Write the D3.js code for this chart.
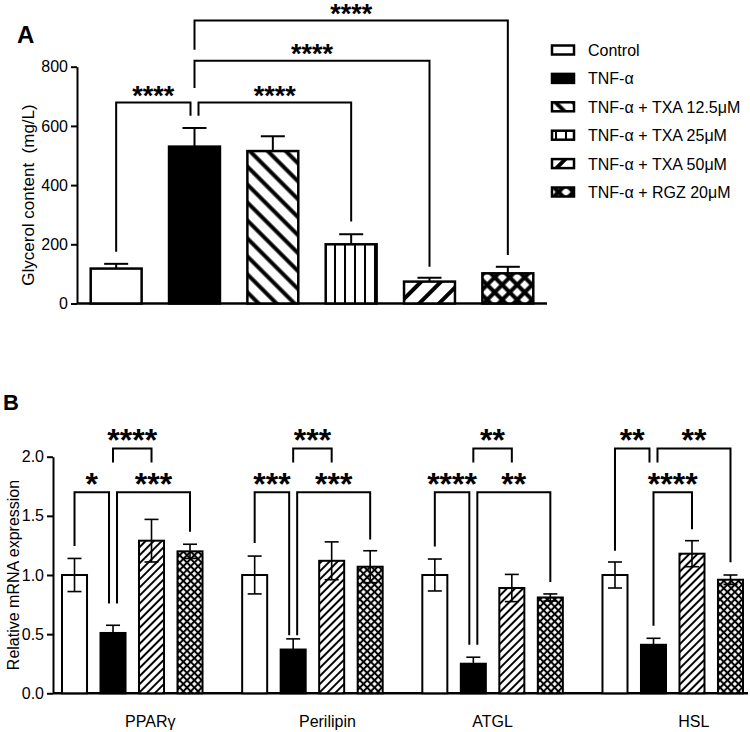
<!DOCTYPE html>
<html>
<head>
<meta charset="utf-8">
<script src="https://cdn.jsdelivr.net/npm/d3@7"></script>
<style>
  body { margin: 0; background: #fff; }
  text { font-family: "Liberation Sans", Arial, sans-serif; }
</style>
</head>
<body>
<svg width="750" height="732"></svg>
<script>
// ---- panel A data
var groupsA = ["Control", "TNF-α", "TNF-α + TXA 12.5μM", "TNF-α + TXA 25μM", "TNF-α + TXA 50μM", "TNF-α + RGZ 20μM"];
var glycerol = [118, 530, 515, 200, 74, 102];
var glycerolErr = [16, 63, 50, 34, 13, 22];
var ticksA = [0, 200, 400, 600, 800];
// brackets: bar a, bar b, bracket level, leg ends (mg/L), stars
var sigA = [
  [0, 1, 679, 175, 634, "****"],
  [1, 3, 679, 634, 277, "****"],
  [1, 4, 820, 728, 124, "****"],
  [1, 5, 956, 857, 164, "****"]
];

// ---- panel B data
var genes = ["PPARγ", "Perilipin", "ATGL", "HSL"];
var seriesB = ["Control", "TNF-α", "TNF-α + TXA 50μM", "TNF-α + RGZ 20μM"];
var mControl = [1.0, 1.0, 1.0, 1.0];
var sdControl = [0.14, 0.16, 0.135, 0.11];
var mTNF = [0.51, 0.37, 0.25, 0.41];
var sdTNF = [0.065, 0.09, 0.055, 0.055];
var mTXA50 = [1.29, 1.12, 0.89, 1.18];
var sdTXA50 = [0.18, 0.16, 0.115, 0.11];
var mRGZ = [1.2, 1.07, 0.81, 0.96];
var sdRGZ = [0.06, 0.135, 0.03, 0.04];
var ticksB = [0, 0.5, 1.0, 1.5, 2.0];
// brackets: gene, bar a, bar b, level, leg ends, stars
var sigB = [
  [0, 0, 1, 1.70, 1.245, 0.76, "*"],
  [0, 1, 3, 1.70, 0.76, 1.366, "***"],
  [0, 1, 2, 2.07, 1.95, 1.95, "****"],
  [1, 0, 1, 1.70, 1.27, 0.49, "***"],
  [1, 1, 3, 1.70, 0.49, 1.30, "***"],
  [1, 1, 2, 2.07, 1.95, 1.95, "***"],
  [2, 0, 1, 1.70, 1.24, 0.41, "****"],
  [2, 1, 3, 1.70, 0.41, 0.94, "**"],
  [2, 1, 2, 2.07, 1.95, 1.95, "**"],
  [3, 0, 1, 2.07, 1.205, 1.95, "**"],
  [3, 1, 3, 2.07, 1.95, 1.107, "**"],
  [3, 1, 2, 1.70, 0.57, 1.386, "****"]
];
var labelShift = [18, 15, 0, 21];

var svg = d3.select("svg"),
    defs = svg.append("defs");

function stripes(id, size, width, angle) {
  var p = defs.append("pattern").attr("id", id)
      .attr("patternUnits", "userSpaceOnUse")
      .attr("width", size).attr("height", size)
      .attr("patternTransform", "rotate(" + angle + ")");
  p.append("rect").attr("width", size).attr("height", size).attr("fill", "#fff");
  p.append("line").attr("x1", size / 2).attr("x2", size / 2).attr("y1", -1).attr("y2", size + 1)
      .attr("stroke", "#000").attr("stroke-width", width);
}
function cross(id, size, width) {
  var p = defs.append("pattern").attr("id", id)
      .attr("patternUnits", "userSpaceOnUse")
      .attr("width", size).attr("height", size)
      .attr("patternTransform", "rotate(45)");
  p.append("rect").attr("width", size).attr("height", size).attr("fill", "#fff");
  p.append("line").attr("x1", size / 2).attr("x2", size / 2).attr("y1", -1).attr("y2", size + 1)
      .attr("stroke", "#000").attr("stroke-width", width);
  p.append("line").attr("y1", size / 2).attr("y2", size / 2).attr("x1", -1).attr("x2", size + 1)
      .attr("stroke", "#000").attr("stroke-width", width);
}
stripes("a125", 12.7, 4, -45);
stripes("a25", 10, 2, 0);
stripes("a50", 14, 4, 45);
cross("argz", 10.6, 4);
stripes("b50", 5.7, 2, 45);
cross("brgz", 5.2, 2);

var fillA = ["#fff", "#000", "url(#a125)", "url(#a25)", "url(#a50)", "url(#argz)"];
var fillB = ["#fff", "#000", "url(#b50)", "url(#brgz)"];

// ================= panel A
var xA = d3.scaleBand().domain(groupsA).range([77, 547]).paddingInner(0.35).paddingOuter(0.175);
var yA = d3.scaleLinear().domain([0, 800]).range([303.5, 66.7]);

var gA = svg.append("g");
var axA = gA.append("g").attr("transform", "translate(77,0)")
    .call(d3.axisLeft(yA).tickValues(ticksA).tickSize(6).tickSizeOuter(0).tickPadding(3));
axA.selectAll("path, line").attr("stroke-width", 2);
axA.selectAll("text").attr("font-size", 16).attr("font-family", "Liberation Sans, Arial").attr("fill", "#000");

gA.append("line")
    .attr("x1", xA.range()[0]).attr("x2", xA.range()[1])
    .attr("y1", yA(0)).attr("y2", yA(0))
    .attr("stroke", "#000").attr("stroke-width", 2.5);

gA.selectAll(".barA").data(glycerol).enter().append("rect")
    .attr("x", function (d, i) { return xA(groupsA[i]); })
    .attr("y", function (d) { return yA(d); })
    .attr("width", xA.bandwidth())
    .attr("height", function (d) { return yA(0) - yA(d); })
    .attr("fill", function (d, i) { return fillA[i]; })
    .attr("stroke", "#000").attr("stroke-width", 2.5);

glycerol.forEach(function (v, i) {
  var cx = xA(groupsA[i]) + xA.bandwidth() / 2;
  gA.append("line").attr("x1", cx).attr("x2", cx)
      .attr("y1", yA(v)).attr("y2", yA(v + glycerolErr[i]))
      .attr("stroke", "#000").attr("stroke-width", 2);
  gA.append("line").attr("x1", cx - 12).attr("x2", cx + 12)
      .attr("y1", yA(v + glycerolErr[i])).attr("y2", yA(v + glycerolErr[i]))
      .attr("stroke", "#000").attr("stroke-width", 2);
});

function legX(list, k, bar, level, centre) {
  // shift a leg sideways when two brackets at one level meet on the same bar
  var s = list[k], other = s[0] === bar ? s[1] : s[0], dir = other > bar ? 1 : -1;
  var shared = list.some(function (t, j) {
    return j !== k && t[2] === level && (t[0] === bar || t[1] === bar);
  });
  return centre + (shared ? dir * 4 : 0);
}

sigA.forEach(function (s, k) {
  var ca = xA(groupsA[s[0]]) + xA.bandwidth() / 2,
      cb = xA(groupsA[s[1]]) + xA.bandwidth() / 2;
  var lvl = sigA.map(function (t) { return [t[0], t[1], t[2]]; });
  var xa = legX(lvl, k, s[0], s[2], ca), xb = legX(lvl, k, s[1], s[2], cb);
  gA.append("path")
      .attr("d", "M" + xa + "," + yA(s[3]) + "V" + yA(s[2]) + "H" + xb + "V" + yA(s[4]))
      .attr("fill", "none").attr("stroke", "#000").attr("stroke-width", 2);
  gA.append("text").attr("x", (xa + xb) / 2).attr("y", yA(s[2]) + 2)
      .attr("text-anchor", "middle").attr("font-size", 27).attr("font-weight", "bold")
      .text(s[5]);
});

gA.append("text").attr("transform", "translate(34,195) rotate(-90)")
    .attr("text-anchor", "middle").attr("font-size", 17)
    .attr("xml:space", "preserve")
    .text("Glycerol content  (mg/L)");

gA.append("text").attr("x", 17).attr("y", 43).attr("font-size", 24).attr("font-weight", "bold").text("A");

// legend
var legend = svg.append("g").attr("transform", "translate(551,50)");
groupsA.forEach(function (name, i) {
  var row = legend.append("g").attr("transform", "translate(0," + (i * 28.4) + ")");
  row.append("rect").attr("x", 1).attr("y", -4.5).attr("width", 22).attr("height", 9)
      .attr("fill", fillA[i]).attr("stroke", "#000").attr("stroke-width", 2.5);
  row.append("text").attr("x", 37).attr("y", 6).attr("font-size", 16).text(name);
});

// ================= panel B
var x0 = d3.scaleBand().domain(genes).range([62, 743]).paddingInner(0.22);
var x1 = d3.scaleBand().domain(seriesB).range([0, x0.bandwidth()]).paddingInner(0.35);
var yB = d3.scaleLinear().domain([0, 2]).range([693.3, 456.7]);
var meansB = [mControl, mTNF, mTXA50, mRGZ];
var sdsB = [sdControl, sdTNF, sdTXA50, sdRGZ];

var gB = svg.append("g");
var axB = gB.append("g").attr("transform", "translate(53,0)")
    .call(d3.axisLeft(yB).tickValues(ticksB).tickFormat(d3.format(".1f")).tickSize(6).tickSizeOuter(0).tickPadding(3));
axB.selectAll("path, line").attr("stroke-width", 2);
axB.selectAll("text").attr("font-size", 16).attr("font-family", "Liberation Sans, Arial").attr("fill", "#000");

gB.append("line")
    .attr("x1", 53).attr("x2", 748)
    .attr("y1", yB(0)).attr("y2", yB(0))
    .attr("stroke", "#000").attr("stroke-width", 2.5);

genes.forEach(function (gene, gi) {
  var grp = gB.append("g").attr("transform", "translate(" + x0(gene) + ",0)");
  seriesB.forEach(function (ser, si) {
    var v = meansB[si][gi];
    grp.append("rect")
        .attr("x", x1(ser)).attr("y", yB(v))
        .attr("width", x1.bandwidth()).attr("height", yB(0) - yB(v))
        .attr("fill", fillB[si]).attr("stroke", "#000").attr("stroke-width", 2);
  });
  seriesB.forEach(function (ser, si) {
    var v = meansB[si][gi], e = sdsB[si][gi], cx = x1(ser) + x1.bandwidth() / 2;
    grp.append("line").attr("x1", cx).attr("x2", cx)
        .attr("y1", yB(v - e)).attr("y2", yB(v + e))
        .attr("stroke", "#000").attr("stroke-width", 1.6);
    [v - e, v + e].forEach(function (w) {
      grp.append("line").attr("x1", cx - 7).attr("x2", cx + 7)
          .attr("y1", yB(w)).attr("y2", yB(w))
          .attr("stroke", "#000").attr("stroke-width", 1.6);
    });
  });
  var mine = sigB.filter(function (s) { return s[0] === gi; });
  var list = mine.map(function (s) { return [s[1], s[2], s[3]]; });
  mine.forEach(function (s, k) {
    var ca = x1(seriesB[s[1]]) + x1.bandwidth() / 2,
        cb = x1(seriesB[s[2]]) + x1.bandwidth() / 2;
    var xa = legX(list, k, s[1], s[3], ca), xb = legX(list, k, s[2], s[3], cb);
    grp.append("path")
        .attr("d", "M" + xa + "," + yB(s[4]) + "V" + yB(s[3]) + "H" + xb + "V" + yB(s[5]))
        .attr("fill", "none").attr("stroke", "#000").attr("stroke-width", 2);
    grp.append("text").attr("x", (xa + xb) / 2).attr("y", yB(s[3]) + 3)
        .attr("text-anchor", "middle").attr("font-size", 32).attr("font-weight", "bold")
        .text(s[6]);
  });
  gB.append("text")
      .attr("x", x0(gene) + x0.bandwidth() / 2 + labelShift[gi]).attr("y", 727)
      .attr("text-anchor", "middle").attr("font-size", 16).text(gene);
});

gB.append("text").attr("transform", "translate(19," + ((yB(0) + yB(2)) / 2) + ") rotate(-90)")
    .attr("text-anchor", "middle").attr("font-size", 16)
    .text("Relative mRNA expression");

gB.append("text").attr("x", 3).attr("y", 410).attr("font-size", 22).attr("font-weight", "bold").text("B");
</script>
</body>
</html>
